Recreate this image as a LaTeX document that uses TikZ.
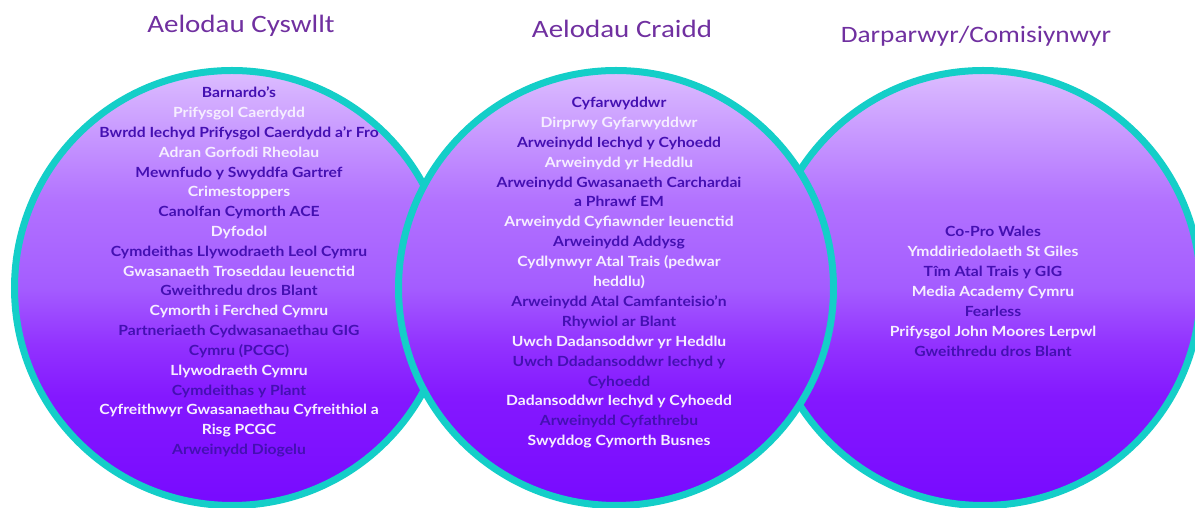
\documentclass[tikz,border=0pt]{standalone}
\usepackage{fontspec}
\setmainfont{Lato}[FakeStretch=1.12]
\newfontfamily\titlefont{Carlito}[FakeStretch=1.16]
\usetikzlibrary{positioning}

\definecolor{ring}{RGB}{20,206,200}
\definecolor{titlepurple}{HTML}{7030A0}
\definecolor{dark}{HTML}{4410B2}
\definecolor{light}{HTML}{F6EEFF}
\definecolor{vtop}{HTML}{DCBDFF}
\definecolor{vupper}{HTML}{B272FF}
\definecolor{vmid}{HTML}{A45CFF}
\definecolor{vlow}{HTML}{9232FF}
\definecolor{vdeep}{HTML}{8418FF}
\definecolor{vbot}{HTML}{780AFF}

\pgfdeclareverticalshading{venn}{100bp}{color(0bp)=(vbot); color(25bp)=(vbot);
  color(37.5bp)=(vdeep); color(43.5bp)=(vlow); color(50bp)=(vmid);
  color(60bp)=(vupper); color(75bp)=(vtop); color(100bp)=(vtop)}

\tikzset{
  group/.style={circle, draw=ring, line width=7pt, minimum size=435pt,
    inner sep=0pt, shading=venn},
  heading/.style={font=\titlefont\fontsize{25}{30}\selectfont, text=titlepurple,
    anchor=base, inner sep=0pt},
  member/.style={font=\bfseries\fontsize{14}{17}\selectfont, anchor=base,
    inner sep=0pt},
}

\begin{document}
\begin{tikzpicture}[x=1pt,y=1pt]
  \useasboundingbox (0,0) rectangle (1195,508);

  % the three groups, the middle one on top
  \node[group] (cyswllt) at (232,220) {};
  \node[group] (darparwyr) at (983,220) {};
  \node[group] (craidd) at (616,220) {};

  % headings
  \node[heading] (t-cyswllt) at (241,475) {Aelodau Cyswllt};
  \node[heading] (t-craidd) at (622,470) {Aelodau Craidd};
  \node[heading, font=\titlefont\fontsize{23.5}{28}\selectfont]
    (t-darparwyr) at (976,465) {Darparwyr/Comisiynwyr};

  % members
  \foreach \col/\txt [count=\i] in {dark/Barnardo’s, light/Prifysgol Caerdydd,
      dark/Bwrdd Iechyd Prifysgol Caerdydd a’r Fro, light/Adran Gorfodi Rheolau,
      dark/Mewnfudo y Swyddfa Gartref, light/Crimestoppers,
      dark/Canolfan Cymorth ACE, light/Dyfodol,
      dark/Cymdeithas Llywodraeth Leol Cymru, light/Gwasanaeth Troseddau Ieuenctid,
      dark/Gweithredu dros Blant, light/Cymorth i Ferched Cymru,
      dark/Partneriaeth Cydwasanaethau GIG, dark/Cymru (PCGC),
      light/Llywodraeth Cymru, dark/Cymdeithas y Plant,
      light/Cyfreithwyr Gwasanaethau Cyfreithiol a, light/Risg PCGC,
      dark/Arweinydd Diogelu}
    \node[member, text=\col] (cyswllt-\i) at (239,{410.3-(\i-1)*19.83}) {\txt};

  \foreach \col/\txt [count=\i] in {dark/Cyfarwyddwr, light/Dirprwy Gyfarwyddwr,
      dark/Arweinydd Iechyd y Cyhoedd, light/Arweinydd yr Heddlu,
      dark/Arweinydd Gwasanaeth Carchardai, dark/a Phrawf EM,
      light/Arweinydd Cyfiawnder Ieuenctid, dark/Arweinydd Addysg,
      light/Cydlynwyr Atal Trais (pedwar, light/heddlu),
      dark/Arweinydd Atal Camfanteisio’n, dark/Rhywiol ar Blant,
      light/Uwch Dadansoddwr yr Heddlu, dark/Uwch Ddadansoddwr Iechyd y,
      dark/Cyhoedd, light/Dadansoddwr Iechyd y Cyhoedd,
      dark/Arweinydd Cyfathrebu, light/Swyddog Cymorth Busnes}
    \node[member, text=\col] (craidd-\i) at (619,{400.5-(\i-1)*19.9}) {\txt};

  \foreach \col/\txt [count=\i] in {dark/Co-Pro Wales, light/Ymddiriedolaeth St Giles,
      dark/Tîm Atal Trais y GIG, light/Media Academy Cymru, dark/Fearless,
      light/Prifysgol John Moores Lerpwl, dark/Gweithredu dros Blant}
    \node[member, text=\col] (darparwyr-\i) at (993,{271-(\i-1)*19.9}) {\txt};
\end{tikzpicture}
\end{document}
